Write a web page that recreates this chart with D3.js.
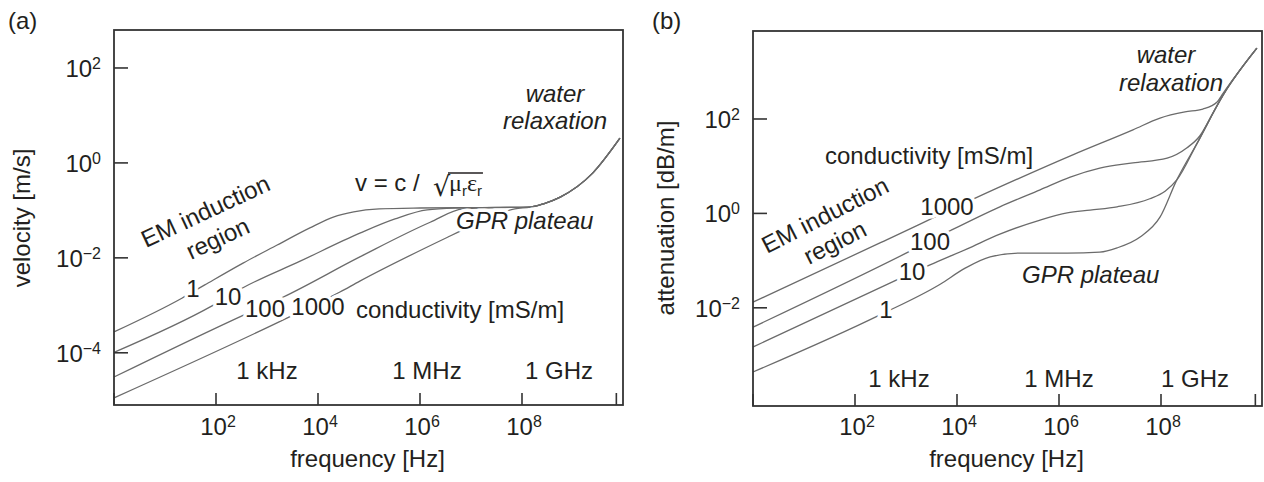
<!DOCTYPE html>
<html><head><meta charset="utf-8">
<script src="https://cdn.jsdelivr.net/npm/d3@7"></script>
<style>
body{margin:0;background:#fff}
text{font-family:"Liberation Sans",Arial,Helvetica,sans-serif;fill:#231f20;font-size:24px}
.halo{stroke:#fff;stroke-width:7px;paint-order:stroke;stroke-linejoin:round}
.it{font-style:italic}
</style>
</head><body>
<svg id="c" width="1264" height="482"></svg>
<script>
// ---------- data (log10 frequency [Hz], log10 value) ----------
// Panel (a): velocity [m/s] for conductivities 1, 10, 100, 1000 mS/m
const velocitySigma1 = [[0,-3.56],[1.33,-2.85],[1.78,-2.57],[2.53,-2.11],[3.20,-1.73],[3.84,-1.37],[4.3,-1.14],[4.7,-1.03],[5.2,-0.97],[6.0,-0.95],[7.2,-0.94],[8.16,-0.93],[8.45,-0.85],[8.75,-0.72],[9.39,-0.21],[9.92,0.52]];
const velocitySigma10 = [[0,-3.99],[1.94,-3.00],[2.51,-2.64],[3.65,-2.07],[4.82,-1.48],[5.51,-1.18],[6.14,-0.99],[6.78,-0.95],[7.2,-0.94],[8.16,-0.93],[8.45,-0.85],[8.75,-0.72],[9.39,-0.21],[9.92,0.52]];
const velocitySigma100 = [[0,-4.51],[2.53,-3.21],[3.31,-2.83],[4.82,-1.98],[6.20,-1.25],[6.84,-0.97],[7.57,-0.94],[8.16,-0.93],[8.45,-0.85],[8.75,-0.72],[9.39,-0.21],[9.92,0.52]];
const velocitySigma1000 = [[0,-4.95],[3.39,-3.27],[4.43,-2.72],[4.82,-2.49],[6.59,-1.54],[7.08,-1.29],[7.51,-1.08],[7.86,-0.97],[8.16,-0.93],[8.45,-0.85],[8.75,-0.72],[9.39,-0.21],[9.92,0.52]];
// Panel (b): attenuation [dB/m]
const attenSigma1 = [[0,-3.36],[2.49,-2.15],[3.67,-1.50],[4.16,-1.16],[4.65,-0.92],[5.24,-0.84],[6.16,-0.84],[6.80,-0.82],[7.14,-0.73],[7.59,-0.50],[7.98,-0.08],[8.31,0.71],[8.71,1.49],[9.22,2.51],[9.88,3.50]];
const attenSigma10 = [[0,-2.83],[2.82,-1.41],[3.47,-1.09],[4.20,-0.75],[4.84,-0.44],[5.63,-0.14],[6.16,0.01],[6.61,0.07],[7.14,0.14],[7.78,0.31],[8.08,0.47],[8.31,0.71],[8.71,1.49],[9.22,2.51],[9.88,3.50]];
const attenSigma100 = [[0,-2.41],[3.08,-0.80],[3.86,-0.37],[4.84,0.14],[5.63,0.50],[6.22,0.77],[6.80,0.96],[7.45,1.07],[8.12,1.17],[8.51,1.39],[8.76,1.64],[9.02,2.13],[9.22,2.51],[9.88,3.50]];
const attenSigma1000 = [[0,-1.88],[2.5,-0.62],[4.84,0.56],[6.27,1.24],[7.45,1.77],[7.98,2.02],[8.47,2.15],[8.82,2.21],[9.10,2.36],[9.22,2.55],[9.55,3.04],[9.88,3.50]];

// ticks (exponents)
const freqTickExp = [2, 4, 6, 8];
const freqMinorTickExp = [0, 9.85];
const velocityTickExp = [-4, -2, 0, 2];
const attenTickExp = [-2, 0, 2];
const bandLabels = ["1 kHz", "1 MHz", "1 GHz"];
const bandExp = [3, 6, 9];
const conductivityLabels = ["1", "10", "100", "1000"];

const svg = d3.select("#c");
const sup = e => (e < 0 ? "\u2212" + (-e) : String(e));

function panel(o) {
  const x = d3.scaleLog().domain([1, 1e10]).range(o.xr);
  const y = d3.scaleLog().domain(o.yd).range(o.yr);
  const g = svg.append("g");
  const line = d3.line()
    .x(d => x(Math.pow(10, d[0])))
    .y(d => y(Math.pow(10, d[1])))
    .curve(d3.curveMonotoneX);
  o.series.forEach(s => g.append("path").attr("d", line(s))
    .attr("fill", "none").attr("stroke", "#6b6b6b").attr("stroke-width", 1.3));
  const x0 = o.xr[0], x1 = o.xr[1] - 1, yb = o.yr[0], yt = o.yr[1];
  g.append("rect").attr("x", x0).attr("y", yt).attr("width", x1 - x0).attr("height", yb - yt)
    .attr("fill", "none").attr("stroke", "#333").attr("stroke-width", 1.8);
  o.yt.forEach(e => {
    const py = y(Math.pow(10, e));
    g.append("line").attr("x1", x0).attr("x2", x0 + 14).attr("y1", py).attr("y2", py)
      .attr("stroke", "#333").attr("stroke-width", 1.6);
    const t = g.append("text").attr("x", x0 - 13).attr("y", py + 9).attr("text-anchor", "end");
    t.append("tspan").text("10");
    t.append("tspan").attr("dy", -8).style("font-size", "16px").text(sup(e));
  });
  freqTickExp.concat(freqMinorTickExp).forEach(e => {
    const px = x(Math.pow(10, e));
    g.append("line").attr("x1", px).attr("x2", px).attr("y1", yb).attr("y2", yb - 12)
      .attr("stroke", "#333").attr("stroke-width", 1.6);
  });
  freqTickExp.forEach(e => {
    const px = x(Math.pow(10, e));
    const t = g.append("text").attr("x", px + 2).attr("y", 435).attr("text-anchor", "middle");
    t.append("tspan").text("10");
    t.append("tspan").attr("dy", -8).style("font-size", "16px").text(sup(e));
  });
  bandLabels.forEach((s, i) => {
    g.append("text").attr("x", x(Math.pow(10, bandExp[i])) + o.bandDx[i]).attr("y", o.bandY)
      .attr("text-anchor", "middle").text(s);
  });
  g.append("text").attr("x", (x0 + x1) / 2 - 1).attr("y", 467).attr("text-anchor", "middle").text("frequency [Hz]");
  g.append("text").attr("transform", `translate(${o.ylx},218) rotate(-90)`).attr("text-anchor", "middle").text(o.ylabel);
  g.append("text").attr("x", o.tag[0]).attr("y", o.tag[1]).text(o.tagText);
  return g;
}

function lab(g, s, px, py, anchor, cls, rot) {
  const t = g.append("text").attr("text-anchor", anchor || "start").attr("class", cls || "");
  if (rot) t.attr("transform", `translate(${px},${py}) rotate(${rot})`);
  else t.attr("x", px).attr("y", py);
  t.text(s);
  return t;
}

// ---------- panel (a) ----------
const ga = panel({
  xr: [114, 624], yd: [Math.pow(10, -5.1), Math.pow(10, 2.8)], yr: [405, 30],
  series: [velocitySigma1, velocitySigma10, velocitySigma100, velocitySigma1000],
  yt: velocityTickExp, ylabel: "velocity [m/s]", ylx: 30,
  tag: [8, 29], tagText: "(a)", bandY: 379, bandDx: [0, 7, -14]
});
lab(ga, conductivityLabels[0], 193, 297, "middle", "halo");
lab(ga, conductivityLabels[1], 228, 305, "middle", "halo");
lab(ga, conductivityLabels[2], 265, 317, "middle", "halo");
lab(ga, conductivityLabels[3], 318, 315, "middle", "halo");
lab(ga, "conductivity [mS/m]", 356, 318);
lab(ga, "GPR plateau", 456, 229, "start", "it halo");
lab(ga, "water", 555, 102, "middle", "it");
lab(ga, "relaxation", 555, 129, "middle", "it");
lab(ga, "EM induction", 146, 248, "start", "", -25);
lab(ga, "region", 191, 260, "start", "", -25);
// formula v = c / sqrt(mu_r eps_r)
lab(ga, "v = c /", 355, 191);
lab(ga, "\u221A", 433, 196).style("font-family", "'DejaVu Sans',sans-serif").style("font-size", "27px");
const f = ga.append("text").attr("x", 449).attr("y", 191).style("font-family", "'Liberation Serif','DejaVu Serif',serif");
f.append("tspan").text("\u03BC");
f.append("tspan").attr("dy", 5).style("font-size", "15px").style("font-family", "'Liberation Sans',Arial,sans-serif").text("r");
f.append("tspan").attr("dy", -5).text("\u03B5");
f.append("tspan").attr("dy", 5).style("font-size", "15px").style("font-family", "'Liberation Sans',Arial,sans-serif").text("r");
const fb = f.node().getBBox();
ga.append("line").attr("x1", 448).attr("x2", fb.x + fb.width + 1).attr("y1", 173).attr("y2", 173)
  .attr("stroke", "#231f20").attr("stroke-width", 1.3);

// ---------- panel (b) ----------
const gb = panel({
  xr: [753, 1263], yd: [Math.pow(10, -4.08), Math.pow(10, 3.864)], yr: [406, 31],
  series: [attenSigma1, attenSigma10, attenSigma100, attenSigma1000],
  yt: attenTickExp, ylabel: "attenuation [dB/m]", ylx: 674,
  tag: [652, 29], tagText: "(b)", bandY: 387, bandDx: [-7, 0, -17]
});
lab(gb, conductivityLabels[3], 947, 215, "middle", "halo");
lab(gb, conductivityLabels[2], 930, 250, "middle", "halo");
lab(gb, conductivityLabels[1], 912, 280, "middle", "halo");
lab(gb, conductivityLabels[0], 886, 318, "middle", "halo");
lab(gb, "conductivity [mS/m]", 825, 164);
lab(gb, "GPR plateau", 1022, 283, "start", "it");
lab(gb, "water", 1166, 63, "middle", "it");
lab(gb, "relaxation", 1171, 91, "middle", "it");
lab(gb, "EM induction", 767, 254, "start", "", -27);
lab(gb, "region", 809, 265, "start", "", -27);
</script>
</body></html>
